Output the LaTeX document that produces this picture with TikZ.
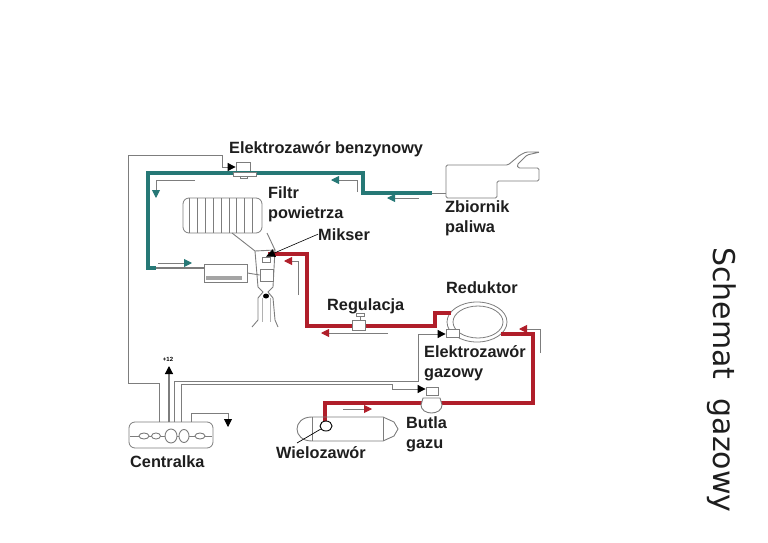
\documentclass[tikz,border=0pt]{standalone}
\usepackage{fontspec}
\setmainfont{Liberation Sans}
\newfontfamily\titlefont{DejaVu Sans}
\usepackage{xcolor}
\usepackage{tikz}
\usetikzlibrary{arrows.meta, calc, positioning, shapes.geometric}
\definecolor{PipeTeal}{RGB}{38,120,118}
\definecolor{PipeRed}{RGB}{176,30,42}
\definecolor{WireGrey}{RGB}{125,125,125}
\definecolor{TextDark}{RGB}{30,30,30}
\begin{document}
\begin{tikzpicture}[x=1pt,y=-1pt,
	lbl/.style={font=\bfseries\fontsize{16.3}{20.5}\selectfont, text=TextDark, align=left, inner sep=0pt, anchor=north west},
	part/.style={draw=WireGrey, fill=white, line width=0.8pt, inner sep=0pt},
	wire/.style={draw=WireGrey, line width=0.9pt},
	tealpipe/.style={draw=PipeTeal, line width=3.2pt},
	redpipe/.style={draw=PipeRed, line width=3.2pt},
	blackarr/.style={wire, -{Triangle[color=black,length=8pt,width=8pt]}},
	tealarr/.style={wire, -{Triangle[color=PipeTeal,length=8pt,width=8pt]}},
	redarr/.style={wire, -{Triangle[color=PipeRed,length=8pt,width=8pt]}}]
	\useasboundingbox (0,0) rectangle (768,543);
	% punkty na przewodach
	\coordinate (tealcornerA) at (363,173);
	\coordinate (tealcornerB) at (363,193);
	\coordinate (tealcornerC) at (148,173);
	\coordinate (tealcornerD) at (148,268);
	\coordinate (tealstart) at (432,193);
	\coordinate (tankin) at (446,193);
	\coordinate (redstart) at (268,254);
	\coordinate (redcornerA) at (307,254);
	\coordinate (redcornerB) at (307,326);
	\coordinate (redcornerC) at (435,326);
	\coordinate (redcornerD) at (435,313);
	\coordinate (redend) at (451,313);
	\coordinate (redin) at (501,334);
	\coordinate (redcornerE) at (533,334);
	\coordinate (redcornerF) at (533,403);
	\coordinate (redcornerG) at (325,403);
	% czesci
	\node[part, minimum width=14pt, minimum height=10pt] (valvepetrol) at (243,167) {};
	\node[part, minimum width=7pt, minimum height=3pt] (valvepetrolstem) at (243.5,177) {};
	\node[part, rounded corners=6pt, minimum width=79pt, minimum height=35pt] (filter) at (222.5,215.5) {};
	\foreach \x in {189,197,205,213,221,229,236,244,252}
		\draw[wire, line width=0.7pt] (\x,198) -- (\x,233);
	\node[part, minimum width=43pt, minimum height=18pt] (injector) at (225.5,273) {};
	\fill[WireGrey!70] (206,275.5) rectangle (242,280);
	% mikser
	\draw[wire] (232,233) -- (255,251) -- (275,250) -- (267,233);
	\draw[wire] (255,251) -- (258,287) -- (263,292) -- (258,298) -- (258,320) -- (252,327);
	\draw[wire] (275,250) -- (273,287) -- (268,292) -- (273,298) -- (275,320) -- (278,327);
	\draw[wire, WireGrey!60] (262,298) -- (262,322);
	\draw[wire, WireGrey!60] (270,298) -- (270,322);
	\node[part, minimum width=13pt, minimum height=12pt] (mixerbox) at (266.5,275) {};
	\node[part, minimum width=8pt, minimum height=5pt] (mixercone) at (266,259.5) {};
	\fill[black] (266,296) ellipse (3pt and 2.5pt);
	% zbiornik
	\draw[wire, rounded corners=1.5pt] (446,198) -- (446,165) -- (508,165) -- (520,155) -- (526,152) -- (540,152) -- (527,155) -- (517,165) -- (518,168) -- (539,168) -- (539,181) -- (497,181) -- (497,198) -- cycle;
	% reduktor
	\node[part, ellipse, minimum width=60pt, minimum height=40pt] (reducer) at (477,322) {};
	\node[part, ellipse, minimum width=50pt, minimum height=32pt] (reducerin) at (478,322) {};
	\node[part, minimum width=13pt, minimum height=8pt] (reducerbox) at (452.5,333) {};
	% przewody benzyny
	\draw[tealpipe] (tealstart) -- (tealcornerB) -- (tealcornerA) -- (tealcornerC) -- (tealcornerD) -- (156,268);
	\draw[wire] (tealstart) -- (tankin);
	\draw[wire, line width=2pt] (156,268) -- (injector.west |- 156,268);
	\draw[wire] (injector.east) -- (mixerbox.west);
	\node[part, minimum width=23pt, minimum height=4pt] (valvepetrolbase) at (244.5,174) {};
	% przewody gazu
	\draw[redpipe] (redstart) -- (redcornerA) -- (redcornerB) -- (redcornerC) -- (redcornerD) -- (redend);
	\draw[redpipe] (redin) -- (redcornerE) -- (redcornerF) -- (redcornerG) -- (325,422);
	% regulacja
	\node[part, minimum width=13pt, minimum height=10pt] (regvalve) at (358.5,325) {};
	\node[part, minimum width=8pt, minimum height=3pt] (regtop) at (360,315) {};
	\draw[wire] (regtop) -- (regvalve.north -| regtop);
	% elektrozawor gazowy
	\node[part, minimum width=12pt, minimum height=8pt] (valvegas) at (432,391) {};
	\draw[wire, fill=white] (423,398) -- (440,398) -- (442,405) .. controls (442,410) and (437,413) .. (431.5,413) .. controls (426,413) and (421,410) .. (421,405) -- cycle;
	% butla
	\draw[wire] (312,417) .. controls (302,417) and (297,423) .. (297,429) .. controls (297,435) and (302,441) .. (312,441) -- (383,441) -- (394,436) -- (398,429) -- (394,422) -- (383,417) -- cycle;
	\draw[wire] (312,417) -- (312,441);
	\draw[wire] (383,417) -- (383,441);
	\node[draw=black, fill=white, line width=0.9pt, ellipse, minimum width=12pt, minimum height=10pt, inner sep=0pt] (multivalve) at (326,426) {};
	\draw[black, line width=0.7pt] (multivalve) -- (297,443);
	% centralka
	\node[part, rounded corners=6pt, minimum width=84pt, minimum height=26pt] (ecu) at (171,435) {};
	\draw[wire] (130,436) -- (212,436);
	\foreach \cx/\rx/\ry in {144/5/3, 156/4.5/3, 171/6/7, 184/5/6.5, 200/5/3}
		\draw[wire, fill=white] (\cx,436) ellipse (\rx pt and \ry pt);
	% przewody centralki
	\draw[blackarr] (159,422) -- (159,383) -- (128,383) -- (128,155) -- (222,155) -- (222,167) -- (valvepetrol.west);
	\draw[blackarr, line width=1.2pt] (169,422) -- (169,366);
	\draw[blackarr] (174,422) -- (174,381) -- (418,381) -- (418,334) -- (reducerbox.west |- 0,334);
	\draw[blackarr] (181,422) -- (181,384) -- (392,384) -- (392,389) -- (valvegas.west |- 0,389);
	\draw[blackarr] (191,422) -- (191,413) -- (228,413) -- (228,427);
	% strzalki kierunku
	\draw[tealarr] (195,180) -- (156,180) -- (156,198);
	\draw[tealarr] (158,263) -- (192,263);
	\draw[tealarr] (357,192) -- (357,180) -- (331,180);
	\draw[tealarr] (419,198) -- (387,198);
	\draw[redarr] (298,295) -- (298,261) -- (284,261);
	\draw[redarr] (388,333) -- (321,333);
	\draw[redarr] (540,353) -- (540,329) -- (519,329);
	\draw[redarr] (343,409) -- (372,409);
	% opisy
	\node[lbl] (lblpetrol) at (229,141) {Elektrozawór benzynowy};
	\node[lbl] (lblfilter) at (268,186) {Filtr\\powietrza};
	\node[lbl] (lblmixer) at (318,228) {Mikser};
	\node[lbl] (lbltank) at (445,200) {Zbiornik\\paliwa};
	\node[lbl] (lblreg) at (327,298) {Regulacja};
	\node[lbl] (lblreducer) at (446,281) {Reduktor};
	\node[lbl] (lblgasvalve) at (424,345) {Elektrozawór\\gazowy};
	\node[lbl] (lblbottle) at (406,416) {Butla\\gazu};
	\node[lbl] (lblmulti) at (276,446) {Wielozawór};
	\node[lbl] (lblecu) at (130,455) {Centralka};
	\node[font=\bfseries\fontsize{6}{7}\selectfont, inner sep=0pt] (lblplus) at (168,359) {+12};
	\node[font=\titlefont\fontsize{30}{34}\selectfont, rotate=-90, inner sep=0pt, text=TextDark] (title) at (722,380) {Schemat\ \ gazowy};
	% mikser - wskaznik
	\draw[black, line width=0.6pt, -{Triangle[color=black,length=9pt,width=8pt]}] (lblmixer.west) -- (mixercone.north);
\end{tikzpicture}
\end{document}
